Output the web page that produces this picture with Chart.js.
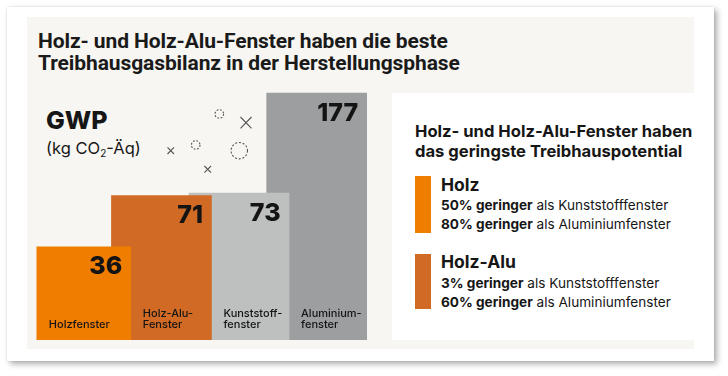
<!DOCTYPE html>
<html>
<head>
<meta charset="utf-8">
<script src="https://cdn.jsdelivr.net/npm/chart.js@4/dist/chart.umd.min.js"></script>
<style>
  html, body { margin: 0; padding: 0; }
  body { width: 728px; height: 376px; position: relative; overflow: hidden; background: #ffffff; font-family: Inter, "Noto Sans", sans-serif; color: #161616; }
  .abs { position: absolute; white-space: nowrap; }
  #card { left: 7px; top: 7px; width: 707px; height: 354px; background: #fff; box-shadow: 3px 3px 6px rgba(0,0,0,0.32), 0 0 2px rgba(0,0,0,0.12); }
  #panel { left: 27px; top: 17px; width: 667px; height: 332px; background: #f7f6f2; }
  #title { left: 38px; top: 31px; font-family: Roboto, sans-serif; font-weight: bold; font-size: 21px; line-height: 21.5px; transform-origin: 0 0; transform: scaleX(1.0); color: #1a1a1a; letter-spacing: -0.1px; }
  #gwp { left: 46px; top: 108px; font-weight: 800; font-size: 25px; line-height: 25px; }
  #unit { left: 46px; top: 140px; font-size: 16.5px; line-height: 16.5px; }
  #unit sub { font-size: 10px; vertical-align: -3px; line-height: 0; }
  #box { left: 392px; top: 93px; width: 302px; height: 247px; background: #ffffff; }
  #head { left: 415px; top: 120.5px; font-weight: bold; font-size: 16.6px; line-height: 20px; }
  .sw { position: absolute; left: 415px; width: 16px; }
  .h2 { left: 441px; font-weight: bold; font-size: 17.5px; line-height: 17.5px; }
  .ln { left: 441px; font-size: 13.6px; line-height: 19.3px; }
  .ln b { font-weight: bold; }
  #c { position: absolute; left: 0; top: 0; }
</style>
</head>
<body>
<div id="card" class="abs"></div>
<div id="panel" class="abs"></div>
<div id="title" class="abs">Holz- und Holz-Alu-Fenster haben die beste<br>Treibhausgasbilanz in der Herstellungsphase</div>
<div id="gwp" class="abs">GWP</div>
<div id="unit" class="abs">(kg CO<sub>2</sub>-Äq)</div>
<svg class="abs" style="left:0;top:0" width="728" height="376">
  <g fill="none" stroke="#555" stroke-width="1.1">
    <circle cx="219.3" cy="114" r="4.3" stroke-dasharray="1.8 1.6"/>
    <circle cx="195.7" cy="145" r="4.3" stroke-dasharray="1.8 1.6"/>
    <circle cx="239.3" cy="150.7" r="8.2" stroke-dasharray="2 1.8"/>
    <path d="M240.5 117 L251.5 128.4 M251.5 117 L240.5 128.4"/>
    <path d="M167.5 147.4 L174 154 M174 147.4 L167.5 154"/>
    <path d="M204.4 166 L211 172.6 M211 166 L204.4 172.6"/>
  </g>
</svg>
<div id="box" class="abs"></div>
<div id="head" class="abs">Holz- und Holz-Alu-Fenster haben<br>das geringste Treibhauspotential</div>
<div class="sw" style="top:176px;height:57px;background:#ef7d00"></div>
<div class="abs h2" style="top:175.5px">Holz</div>
<div class="abs ln" style="top:196px"><b>50% geringer</b> als Kunststofffenster<br><b>80% geringer</b> als Aluminiumfenster</div>
<div class="sw" style="top:254px;height:55px;background:#d06a25"></div>
<div class="abs h2" style="top:253px">Holz-Alu</div>
<div class="abs ln" style="top:273.7px"><b>3% geringer</b> als Kunststofffenster<br><b>60% geringer</b> als Aluminiumfenster</div>
<canvas id="c" width="728" height="376"></canvas>
<script>
// ---- data ----
const categories = ['Holzfenster', 'Holz-Alu-Fenster', 'Kunststofffenster', 'Aluminiumfenster'];
const categoryLines = [['Holzfenster'], ['Holz-Alu-', 'Fenster'], ['Kunststoff-', 'fenster'], ['Aluminium-', 'fenster']];
const gwpValues = [36, 71, 73, 177];

// ---- styles ----
const barColors = ['#ef7d00', '#d06a25', '#bebfbf', '#9d9ea0'];

// square-root value axis (the graphic compresses tall bars)
class SqrtScale extends Chart.LinearScale {
  getPixelForValue(value) {
    const a = Math.sqrt(this.min), b = Math.sqrt(this.max);
    const v = Math.max(value, this.min);
    return this.getPixelForDecimal((Math.sqrt(v) - a) / (b - a));
  }
  getValueForPixel(pixel) {
    const a = Math.sqrt(this.min), b = Math.sqrt(this.max);
    const s = a + this.getDecimalForPixel(pixel) * (b - a);
    return s * s;
  }
}
SqrtScale.id = 'sqrt';
SqrtScale.defaults = Chart.LinearScale.defaults;
Chart.register(SqrtScale);

const labelPlugin = {
  id: 'barLabels',
  afterDatasetsDraw(chart) {
    const ctx = chart.ctx;
    const bars = chart.data.datasets.map((d, i) => chart.getDatasetMeta(i).data[0].getProps(['x', 'y', 'width'], true));
    const bottom = chart.chartArea.bottom;
    ctx.save();
    ctx.fillStyle = '#141414';
    bars.forEach((bar, i) => {
      const right = bar.x + bar.width / 2;
      ctx.font = '800 25px Inter, sans-serif';
      ctx.textAlign = 'right';
      ctx.textBaseline = 'alphabetic';
      ctx.fillText(String(gwpValues[i]), right - 8.5, bar.y + 27.5);
      const visLeft = i === 0 ? bar.x - bar.width / 2 : bars[i - 1].x + bars[i - 1].width / 2;
      ctx.font = '500 11px Inter, sans-serif';
      ctx.textAlign = 'left';
      const lines = categoryLines[i];
      lines.forEach((ln, k) => {
        ctx.fillText(ln, visLeft + 12, bottom - 12 - (lines.length - 1 - k) * 10.5);
      });
    });
    ctx.restore();
  }
};

new Chart(document.getElementById('c'), {
  type: 'bar',
  data: {
    labels: categories,
    datasets: gwpValues.map((v, i) => ({
      label: categories[i],
      data: [{ x: categories[i], y: v }],
      backgroundColor: barColors[i],
      barThickness: i === 0 ? 94 : 100,
      grouped: false,
      order: i,
      clip: false,
      borderWidth: 0
    }))
  },
  options: {
    responsive: false,
    devicePixelRatio: 1,
    animation: false,
    layout: { padding: { left: 45, right: 372.5, top: 93, bottom: 36.3 } },
    plugins: { legend: { display: false }, tooltip: { enabled: false } },
    scales: {
      x: { type: 'category', display: false, offset: true },
      y: { type: 'sqrt', display: false, min: 2.5, max: 177 }
    }
  },
  plugins: [labelPlugin]
});
</script>
</body>
</html>
